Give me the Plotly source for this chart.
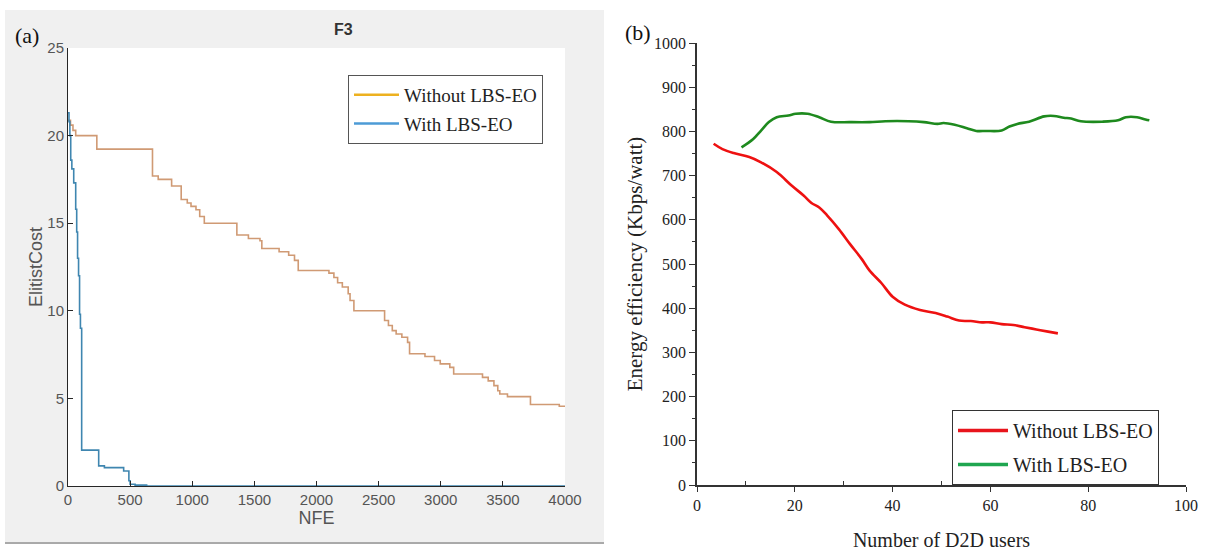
import plotly.graph_objects as go

# ---------------- Data: panel (a) ----------------
nfe_without = [0, 20, 40, 62, 232, 680, 726, 834, 911, 960, 990, 1030, 1060, 1097, 1359, 1452,
               1545, 1560, 1699, 1776, 1823, 1853, 2100, 2140, 2170, 2208, 2255, 2270, 2301, 2548,
               2579, 2610, 2641, 2687, 2733, 2749, 2873, 2950, 2996, 3073, 3104, 3336, 3382, 3428,
               3459, 3475, 3537, 3722, 3954, 4000]
cost_without = [20.87, 20.6, 20.3, 20.0, 19.23, 17.69, 17.5, 17.12, 16.35, 16.15, 15.96, 15.77, 15.38,
                15.0, 14.33, 14.13, 14.0, 13.56, 13.37, 13.17, 12.88, 12.3, 12.15, 11.9, 11.6, 11.36,
                10.97, 10.59, 10.0, 9.45, 9.16, 8.87, 8.68, 8.49, 8.2, 7.55, 7.39, 7.16, 6.97, 6.77,
                6.39, 6.2, 6.0, 5.73, 5.44, 5.25, 5.1, 4.65, 4.55, 4.55]
nfe_with = [0, 8, 15, 22, 31, 46, 62, 70, 77, 85, 93, 100, 110, 247, 293, 448, 490, 500, 540, 633, 4000]
cost_with = [21.3, 20.8, 20.0, 18.6, 18.1, 17.3, 15.8, 14.5, 13.0, 12.0, 9.8, 9.0, 2.05, 1.15, 1.05,
             0.86, 0.3, 0.1, 0.05, 0.0, 0.0]

# ---------------- Data: panel (b) ----------------
users_without = [3.4, 5.2, 7.5, 10.7, 13.1, 16.3, 19.4, 21.8, 23.4, 25.0, 26.6, 29.0, 31.3, 33.7,
                 35.3, 37.7, 40.0, 42.5, 45.6, 48.8, 51.2, 53.6, 56.0, 58.3, 60.0, 62.3, 64.7, 67.0,
                 69.4, 71.8, 73.8]
ee_without = [772, 760, 751, 742, 730, 708, 677, 655, 638, 628, 610, 579, 545, 511,
              485, 457, 426, 408, 396, 389, 381, 372, 371, 368, 368, 364, 362, 357,
              352, 347, 343]
users_with = [9.1, 11.5, 13.1, 14.7, 16.3, 18.7, 20.2, 22.6, 25.0, 27.4, 31.3, 35.3, 38.5, 43.3,
              46.4, 49.2, 50.4, 52.7, 55.2, 57.1, 59.1, 62.3, 63.9, 65.5, 67.9, 71.0, 73.0, 75.0,
              76.5, 78.5, 82.9, 86.1, 87.7, 90.0, 91.7, 92.5]
ee_with = [764, 783, 802, 821, 832, 836, 840, 840, 832, 822, 821, 821, 823, 823,
           821, 817, 819, 815, 807, 801, 801, 802, 811, 817, 822, 834, 835, 831,
           829, 823, 822, 825, 832, 832, 827, 825]

legend_names = ["Without LBS-EO", "With LBS-EO"]

fig = go.Figure()

# Panel (a) traces
fig.add_trace(go.Scatter(x=nfe_without, y=cost_without, mode="lines", line_shape="hv",
                         line=dict(color="#d09a74", width=1.6), showlegend=False,
                         xaxis="x", yaxis="y"))
fig.add_trace(go.Scatter(x=nfe_with, y=cost_with, mode="lines", line_shape="hv",
                         line=dict(color="#3f86b0", width=1.6), showlegend=False,
                         xaxis="x", yaxis="y"))
# legend entries (a)
fig.add_trace(go.Scatter(x=[None], y=[None], mode="lines", name=legend_names[0],
                         line=dict(color="#EDB120", width=2.5), legend="legend", legendgroup="a1",
                         xaxis="x", yaxis="y"))
fig.add_trace(go.Scatter(x=[None], y=[None], mode="lines", name=legend_names[1],
                         line=dict(color="#4d9bd6", width=2.5), legend="legend", legendgroup="a2",
                         xaxis="x", yaxis="y"))

# Panel (b) traces
fig.add_trace(go.Scatter(x=users_without, y=ee_without, mode="lines", line_shape="spline",
                         line=dict(color="#ee1111", width=2.6), showlegend=False,
                         xaxis="x2", yaxis="y2"))
fig.add_trace(go.Scatter(x=users_with, y=ee_with, mode="lines", line_shape="spline",
                         line=dict(color="#1e8a1e", width=2.6), showlegend=False,
                         xaxis="x2", yaxis="y2"))
fig.add_trace(go.Scatter(x=[None], y=[None], mode="lines", name=legend_names[0],
                         line=dict(color="#e8141c", width=3.5), legend="legend2", legendgroup="b1",
                         xaxis="x2", yaxis="y2"))
fig.add_trace(go.Scatter(x=[None], y=[None], mode="lines", name=legend_names[1],
                         line=dict(color="#1fa650", width=3.5), legend="legend2", legendgroup="b2",
                         xaxis="x2", yaxis="y2"))

W, H = 1207, 551
def px_x(p):
    return p / W
def px_y(p):
    return 1 - p / H

axis_a = "#262626"
axis_b = "#333333"
times = "Liberation Serif, Times New Roman, serif"
arial = "Liberation Sans, Arial, sans-serif"
tick_a = "#555555"

fig.update_layout(
    width=W, height=H,
    margin=dict(l=0, r=0, t=0, b=0),
    paper_bgcolor="white",
    plot_bgcolor="rgba(0,0,0,0)",
    showlegend=True,
    xaxis=dict(domain=[px_x(68), px_x(565)], range=[0, 4000], anchor="y",
               tickmode="array", tickvals=[0, 500, 1000, 1500, 2000, 2500, 3000, 3500, 4000],
               ticks="inside", ticklen=5, tickcolor=axis_a, showline=True, linecolor=axis_a,
               linewidth=1, showgrid=False, zeroline=False, ticklabeloverflow="allow",
               tickfont=dict(family=arial, size=15, color=tick_a),
               title=dict(text="NFE", font=dict(family=arial, size=18, color=tick_a), standoff=4),
               automargin=False),
    yaxis=dict(domain=[px_y(486), px_y(48)], range=[0, 25], anchor="x",
               tickmode="array", tickvals=[0, 5, 10, 15, 20, 25],
               ticks="inside", ticklen=5, tickcolor=axis_a, showline=True, linecolor=axis_a,
               linewidth=1, showgrid=False, zeroline=False, ticklabeloverflow="allow",
               tickfont=dict(family=arial, size=15, color=tick_a),
               title=dict(text="ElitistCost", font=dict(family=arial, size=18, color=tick_a), standoff=0),
               automargin=False),
    xaxis2=dict(domain=[px_x(697), px_x(1186)], range=[0, 100], anchor="y2",
                tickmode="array", tickvals=[0, 20, 40, 60, 80, 100],
                ticks="outside", ticklen=5, tickcolor=axis_b, tickwidth=1.3,
                minor=dict(tickvals=[10, 30, 50, 70, 90], ticks="inside", ticklen=4, tickcolor=axis_b),
                showline=True, linecolor=axis_b, linewidth=1.5, showgrid=False, zeroline=False,
                ticklabeloverflow="allow",
                tickfont=dict(family=times, size=16, color="#222222"),
                title=dict(text="Number of D2D users", font=dict(family=times, size=20, color="#222222"), standoff=20),
                automargin=False),
    yaxis2=dict(domain=[px_y(485), px_y(43)], range=[0, 1000], anchor="x2",
                tickmode="array", tickvals=list(range(0, 1001, 100)),
                ticks="outside", ticklen=6, tickcolor=axis_b, tickwidth=1.3,
                minor=dict(tickvals=list(range(50, 1000, 100)), ticks="outside", ticklen=3, tickcolor=axis_b),
                showline=True, linecolor=axis_b, linewidth=1.5, showgrid=False, zeroline=False,
                ticklabeloverflow="allow",
                tickfont=dict(family=times, size=16, color="#222222"),
                title=dict(text="Energy efficiency (Kbps/watt)", font=dict(family=times, size=21, color="#222222"), standoff=6),
                automargin=False),
    xaxis3=dict(domain=[px_x(697), px_x(1186)], range=[0, 100], anchor="y2", overlaying="x2", side="top",
                tickmode="array", tickvals=[0, 20, 40, 60, 80, 100], showticklabels=False,
                ticks="inside", ticklen=6, tickcolor=axis_b, tickwidth=1.3,
                minor=dict(tickvals=[10, 30, 50, 70, 90], ticks="inside", ticklen=4, tickcolor=axis_b),
                showline=True, linecolor=axis_b, linewidth=1.5, showgrid=False, zeroline=False,
                automargin=False),
    yaxis3=dict(domain=[px_y(485), px_y(43)], range=[0, 1000], anchor="x2", overlaying="y2", side="right",
                tickmode="array", tickvals=list(range(0, 1001, 100)), showticklabels=False,
                ticks="inside", ticklen=6, tickcolor=axis_b, tickwidth=1.3,
                minor=dict(tickvals=list(range(50, 1000, 100)), ticks="inside", ticklen=3, tickcolor=axis_b),
                showline=True, linecolor=axis_b, linewidth=1.5, showgrid=False, zeroline=False,
                automargin=False),
    legend=dict(x=px_x(348), y=px_y(75), xanchor="left", yanchor="top",
                bgcolor="white", bordercolor="#555555", borderwidth=1,
                font=dict(family=times, size=19, color="#222222"),
                tracegroupgap=1, itemwidth=45, entrywidth=172),
    legend2=dict(x=px_x(952), y=px_y(410), xanchor="left", yanchor="top",
                 bgcolor="white", bordercolor="#333333", borderwidth=1,
                 font=dict(family=times, size=20, color="#222222"),
                 tracegroupgap=5, itemwidth=50, entrywidth=195),
    shapes=[
        dict(type="rect", xref="paper", yref="paper", x0=px_x(5), x1=px_x(604),
             y0=px_y(542), y1=px_y(10), fillcolor="#f0f0f0", line=dict(width=0), layer="below"),
        dict(type="rect", xref="paper", yref="paper", x0=px_x(68), x1=px_x(565),
             y0=px_y(486), y1=px_y(48), fillcolor="white", line=dict(width=0), layer="below"),
        dict(type="line", xref="paper", yref="paper", x0=px_x(5), x1=px_x(604),
             y0=px_y(543), y1=px_y(543), line=dict(color="#555555", width=1)),
    ],
    annotations=[
        dict(text="<b>F3</b>", x=px_x(343), y=px_y(30), xref="paper", yref="paper", showarrow=False,
             font=dict(family=arial, size=16, color="#333333"), xanchor="center", yanchor="middle"),
        dict(text="(a)", x=px_x(13), y=px_y(35), xref="paper", yref="paper", showarrow=False,
             font=dict(family=times, size=22, color="#111111"), xanchor="left", yanchor="middle"),
        dict(text="(b)", x=px_x(623), y=px_y(33), xref="paper", yref="paper", showarrow=False,
             font=dict(family=times, size=22, color="#111111"), xanchor="left", yanchor="middle"),
    ],
)

fig.write_html("out.html", config={"displayModeBar": False},
               post_script="document.body.style.margin='0';document.body.style.padding='0';")
